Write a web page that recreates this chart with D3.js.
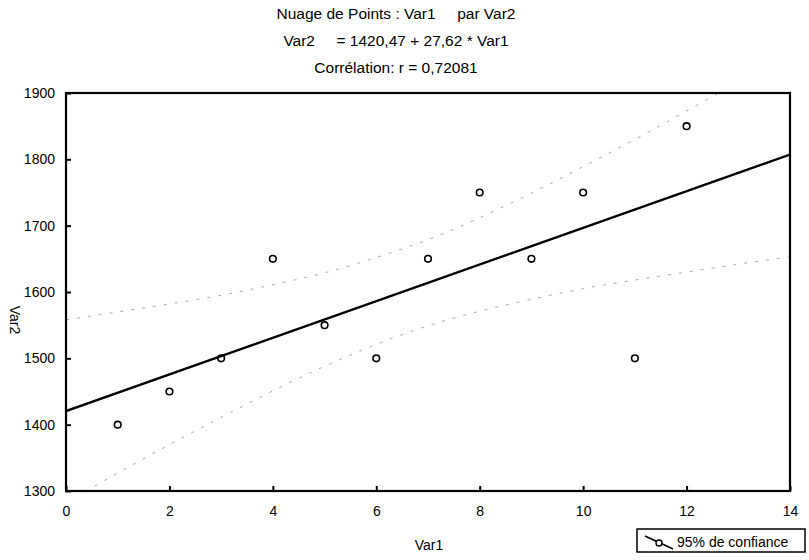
<!DOCTYPE html>
<html>
<head>
<meta charset="utf-8">
<script src="https://cdn.jsdelivr.net/npm/d3@7"></script>
<style>
body { margin: 0; background: #fff; }
svg { font-family: "Liberation Sans", Arial, sans-serif; }
.axis path, .axis line { stroke: #000; }
.axis text { font-size: 14px; fill: #000; }
</style>
</head>
<body>
<svg id="chart" width="809" height="560"></svg>
<script>
// observations
var var1 = [1, 2, 3, 4, 5, 6, 7, 8, 9, 10, 11, 12];
var var2 = [1400, 1450, 1500, 1650, 1550, 1500, 1650, 1750, 1650, 1750, 1500, 1850];

// regression line, from the printed equation
var intercept = 1420.47;
var slope = 27.62;

// 95% bands at each integer of Var1
var bandX = [0, 1, 2, 3, 4, 5, 6, 7, 8, 9, 10, 11, 12, 13, 14];
var bandUpper = [1558, 1570, 1582, 1595, 1611, 1629, 1652, 1679, 1712, 1749, 1789, 1830, 1873, 1917, 1962];
var bandLower = [1283, 1327, 1370, 1411, 1451, 1488, 1521, 1549, 1571, 1589, 1605, 1618, 1630, 1642, 1653];

var xTicks = [0, 2, 4, 6, 8, 10, 12, 14];
var yTicks = [1300, 1400, 1500, 1600, 1700, 1800, 1900];

var titleLines = ["Nuage de Points : Var1     par Var2",
                  "Var2     = 1420,47 + 27,62 * Var1",
                  "Corrélation: r = 0,72081"];

var svg = d3.select("#chart");
var pl = 66, pr = 790, pt = 93, pb = 491;

var x = d3.scaleLinear().domain([0, 14]).range([pl, pr]);
var y = d3.scaleLinear().domain([1300, 1900]).range([pb, pt]);

// titles
svg.selectAll("text.title")
	.data(titleLines)
	.enter().append("text")
	.attr("class", "title")
	.attr("x", 396)
	.attr("y", function(d, i) { return 19 + i * 27; })
	.attr("text-anchor", "middle")
	.attr("font-size", 15.5)
	.style("white-space", "pre")
	.text(function(d) { return d; });

svg.append("clipPath").attr("id", "plotclip")
	.append("rect")
	.attr("x", pl).attr("y", pt)
	.attr("width", pr - pl).attr("height", pb - pt);

var plot = svg.append("g").attr("clip-path", "url(#plotclip)");

// confidence bands
var bandLine = d3.line()
	.x(function(d) { return x(d[0]); })
	.y(function(d) { return y(d[1]); })
	.curve(d3.curveNatural);

[bandUpper, bandLower].forEach(function(vals) {
	plot.append("path")
		.datum(bandX.map(function(v, i) { return [v, vals[i]]; }))
		.attr("d", bandLine)
		.attr("fill", "none")
		.attr("stroke", "#a8a8a8")
		.attr("stroke-width", 1)
		.attr("stroke-dasharray", "3,8");
});

// regression line
plot.append("line")
	.attr("x1", x(0)).attr("y1", y(intercept))
	.attr("x2", x(14)).attr("y2", y(intercept + slope * 14))
	.attr("stroke", "#000")
	.attr("stroke-width", 2.4);

// points
svg.selectAll("circle.pt")
	.data(var1)
	.enter().append("circle")
	.attr("class", "pt")
	.attr("cx", function(d) { return x(d); })
	.attr("cy", function(d, i) { return y(var2[i]); })
	.attr("r", 3.3)
	.attr("fill", "none")
	.attr("stroke", "#000")
	.attr("stroke-width", 1.6);

// axes with inward ticks
svg.append("g")
	.attr("class", "axis")
	.attr("transform", "translate(0," + pb + ")")
	.call(d3.axisBottom(x).tickValues(xTicks).tickSize(-5).tickPadding(15).tickFormat(d3.format("d")))
	.call(function(g) { g.select(".domain").remove(); });

svg.append("g")
	.attr("class", "axis")
	.attr("transform", "translate(" + pl + ",0)")
	.call(d3.axisLeft(y).tickValues(yTicks).tickSize(-5).tickPadding(11).tickFormat(d3.format("d")))
	.call(function(g) { g.select(".domain").remove(); });

svg.selectAll(".axis line").attr("stroke-width", 2);

// frame
svg.append("rect")
	.attr("x", pl).attr("y", pt)
	.attr("width", pr - pl).attr("height", pb - pt)
	.attr("fill", "none")
	.attr("stroke", "#000")
	.attr("stroke-width", 2.2);

// axis titles
svg.append("text")
	.attr("x", 429).attr("y", 550)
	.attr("text-anchor", "middle")
	.attr("font-size", 14)
	.text("Var1");

svg.append("text")
	.attr("transform", "translate(10,320) rotate(90)")
	.attr("text-anchor", "middle")
	.attr("font-size", 14)
	.text("Var2");

// legend
var legend = svg.append("g").attr("class", "legend");
legend.append("rect")
	.attr("x", 637).attr("y", 529)
	.attr("width", 168).attr("height", 23)
	.attr("fill", "#fff")
	.attr("stroke", "#000")
	.attr("stroke-width", 1.5);
legend.append("line")
	.attr("x1", 645).attr("y1", 536)
	.attr("x2", 673).attr("y2", 549)
	.attr("stroke", "#000")
	.attr("stroke-width", 1.5);
legend.append("circle")
	.attr("cx", 659).attr("cy", 543)
	.attr("r", 3)
	.attr("fill", "#fff")
	.attr("stroke", "#000")
	.attr("stroke-width", 1.4);
legend.append("text")
	.attr("x", 677).attr("y", 547)
	.attr("font-size", 14)
	.text("95% de confiance");
</script>
</body>
</html>
